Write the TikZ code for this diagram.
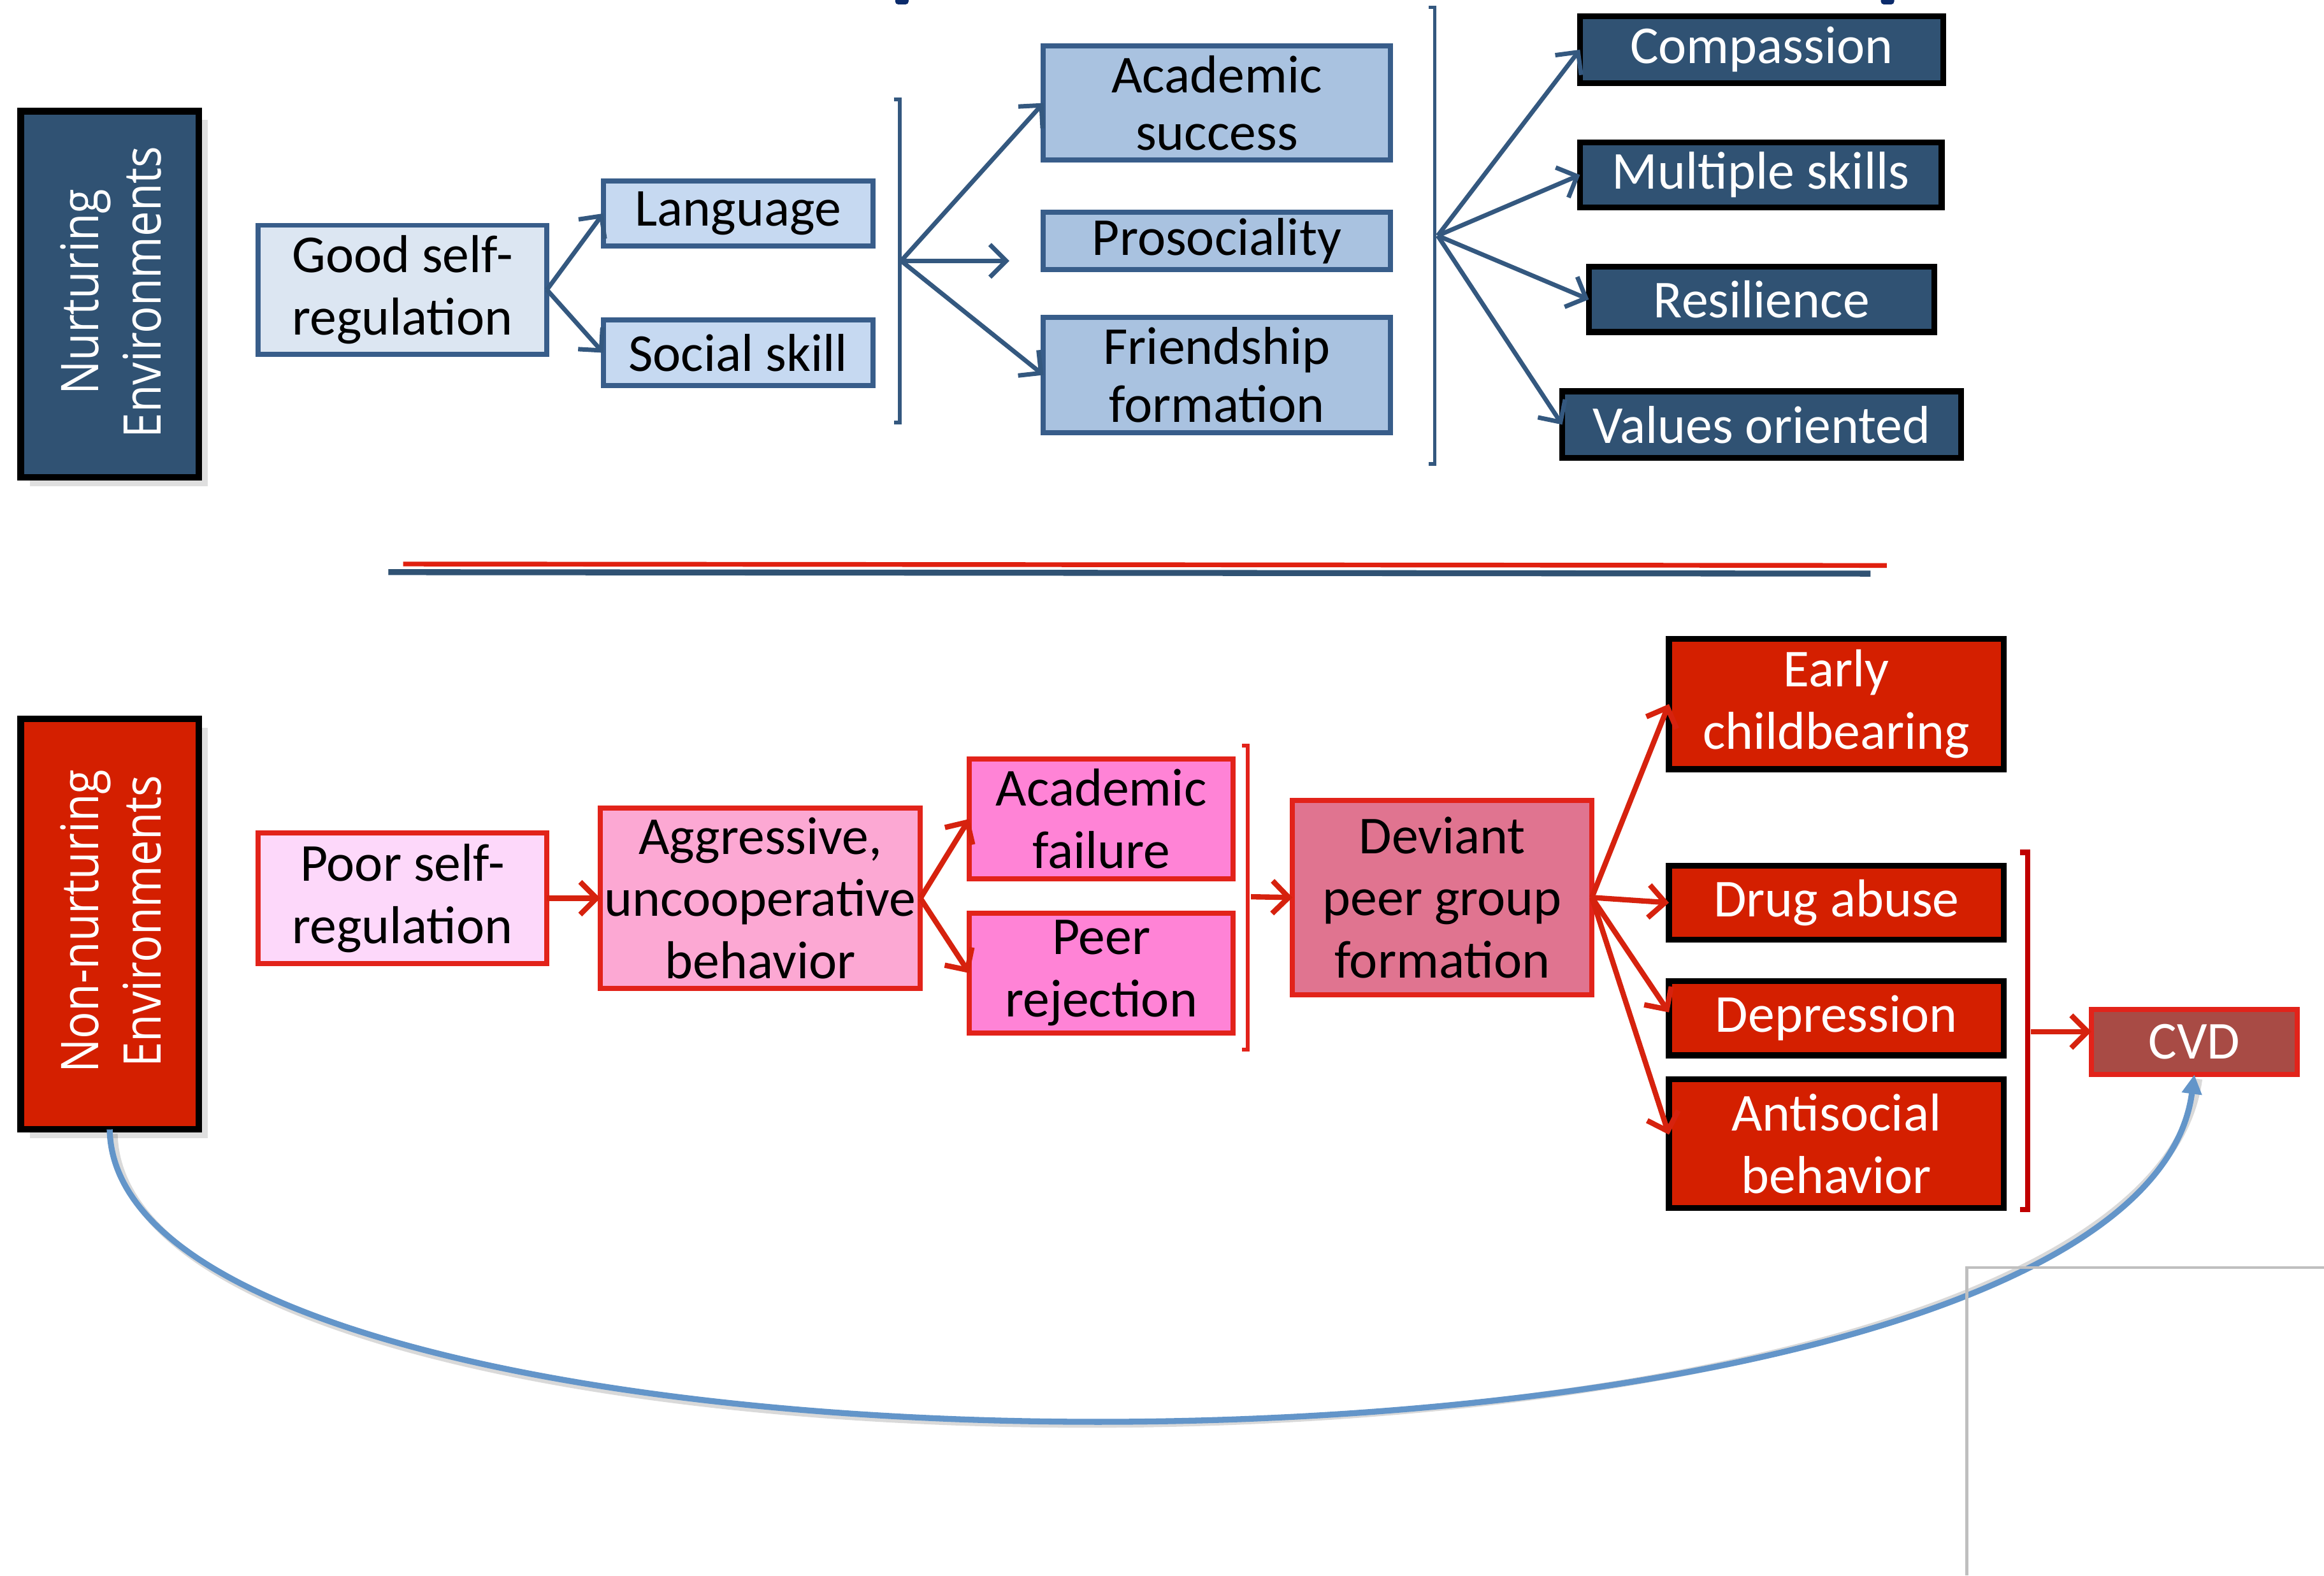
\documentclass[tikz,border=0pt]{standalone}
\usepackage{fontspec}
\setmainfont{Carlito}
\newfontfamily\envfont{Open Sans}
\usetikzlibrary{arrows.meta,shadows}
\definecolor{navy}{HTML}{305273}
\definecolor{edgeblue}{HTML}{385D8A}
\definecolor{paleblue}{HTML}{DCE6F2}
\definecolor{lightblue}{HTML}{C6D9F1}
\definecolor{midblue}{HTML}{A9C2E0}
\definecolor{arrowblue}{HTML}{34587F}
\definecolor{envred}{HTML}{D41F00}
\definecolor{edgered}{HTML}{E2231A}
\definecolor{arrowred}{HTML}{D6220E}
\definecolor{darkbracket}{HTML}{C00000}
\definecolor{palepink}{HTML}{FDD8FA}
\definecolor{pinkA}{HTML}{FCA8D3}
\definecolor{hotpink}{HTML}{FF83D6}
\definecolor{rosebox}{HTML}{E07490}
\definecolor{cvdfill}{HTML}{A84B45}
\definecolor{curveblue}{HTML}{6395C9}
\definecolor{gridgrey}{HTML}{BFBFBF}
\definecolor{topmark}{HTML}{0B2B6B}
\definecolor{sepred}{HTML}{E0200F}
\begin{document}
\begin{tikzpicture}[x=0.5pt,y=-0.5pt,
  bx/.style={rectangle, inner sep=0pt, outer sep=0pt, align=center, font=\fontsize{18}{21}\selectfont},
  tight/.style={font=\fontsize{18}{19.5}\selectfont},
  lightnode/.style={bx, draw=edgeblue, line width=1.7pt},
  darknode/.style={bx, draw=black, fill=navy, text=white, line width=2pt},
  pinknode/.style={bx, draw=edgered, line width=1.7pt},
  rednode/.style={bx, draw=black, fill=envred, text=white, line width=2pt},
  envbox/.style={bx, draw=black, line width=2.2pt,
    drop shadow={shadow xshift=3pt, shadow yshift=-3pt, opacity=0.25}},
  envlabel/.style={inner sep=0pt, text=white, rotate=90},
  barrow/.style={draw=arrowblue, line width=1.5pt, -{Straight Barb[length=5.5pt,width=11pt]}},
  rarrow/.style={draw=arrowred, line width=1.8pt, -{Straight Barb[length=5.5pt,width=11pt]}},
  bluebracket/.style={draw=arrowblue, line width=1.2pt},
  redbracket/.style={draw=edgered, line width=1.3pt}]
\useasboundingbox (0,0) rectangle (1568,1063);

% top partial marks
\fill[topmark, rounded corners=1pt] (604,-4) rectangle (613,3);
\fill[topmark, rounded corners=1pt] (1269,-4) rectangle (1278,3);

% ---------- top half ----------
\node[envbox, fill=navy, minimum width=60pt, minimum height=123.5pt] (nurt) at (74,198.5) {};
\node[envlabel] (nurtT) at (79,197)
  {\scalebox{0.87}[1]{\envfont\fontsize{17.5}{21}\selectfont\begin{tabular}{@{}c@{}}Nurturing\\Environments\end{tabular}}};
\node[lightnode, fill=paleblue, minimum width=97.5pt, minimum height=43.5pt] (good) at (271.5,195.5) {Good self-\\regulation};
\node[lightnode, fill=lightblue, minimum width=91pt, minimum height=22pt] (lang) at (498,144) {Language};
\node[lightnode, fill=lightblue, minimum width=91pt, minimum height=22pt] (social) at (498,238) {Social skill};
\node[lightnode, tight, fill=midblue, minimum width=117pt, minimum height=38.5pt] (acad) at (821,69.5) {Academic\\success};
\node[lightnode, fill=midblue, minimum width=117pt, minimum height=19.5pt] (proso) at (821,162.5) {Prosociality};
\node[lightnode, tight, fill=midblue, minimum width=117pt, minimum height=39pt] (friend) at (821,253) {Friendship\\formation};
\node[darknode, minimum width=122.5pt, minimum height=22.5pt] (comp) at (1188.5,33.5) {Compassion};
\node[darknode, minimum width=122pt, minimum height=22pt] (multi) at (1188,118) {Multiple skills};
\node[darknode, minimum width=116.5pt, minimum height=22pt] (resil) at (1188.5,202) {Resilience};
\node[darknode, minimum width=134.5pt, minimum height=22.5pt] (values) at (1188.5,286.5) {Values oriented};

\draw[barrow] (good.east) -- (lang.west);
\draw[barrow] (good.east) -- (social.west);

\draw[bluebracket] (603,67) -- (607,67) -- (607,285) -- (603,285);
\coordinate (b1) at (608,176);
\coordinate (prosotip) at (681,176);
\draw[barrow] (b1) -- (acad.west);
\draw[barrow] (b1) -- (prosotip);
\draw[barrow] (b1) -- (friend.west);

\draw[bluebracket] (964,5) -- (968,5) -- (968,313) -- (964,313);
\coordinate (b2) at (970,159);
\draw[barrow] (b2) -- (comp.west);
\draw[barrow] (b2) -- (multi.west);
\draw[barrow] (b2) -- (resil.west);
\draw[barrow] (b2) -- (values.west);

% separator
\draw[sepred, line width=1.6pt] (272,380.5) -- (1273,381.5);
\draw[navy, line width=2pt] (262,386) -- (1262,387);

% ---------- bottom half ----------
\node[envbox, fill=envred, minimum width=60pt, minimum height=138.5pt] (nonnurt) at (74,623.5) {};
\node[envlabel] (nonnurtT) at (79,621.5)
  {\scalebox{0.87}[1]{\envfont\fontsize{17.5}{21}\selectfont\begin{tabular}{@{}c@{}}Non-nurturing\\Environments\end{tabular}}};
\node[pinknode, fill=palepink, minimum width=97.5pt, minimum height=44pt] (poor) at (271.5,606) {Poor self-\\regulation};
\node[pinknode, fill=pinkA, minimum width=108pt, minimum height=61pt] (aggr) at (513,606) {Aggressive,\\uncooperative\\behavior};
\node[pinknode, fill=hotpink, minimum width=89pt, minimum height=40.5pt] (acfail) at (743,552.5) {Academic\\failure};
\node[pinknode, fill=hotpink, minimum width=89pt, minimum height=40.5pt] (peer) at (743,656.5) {Peer\\rejection};
\node[pinknode, fill=rosebox, minimum width=101pt, minimum height=65.5pt] (deviant) at (973,605.5) {Deviant\\peer group\\formation};
\node[rednode, minimum width=113pt, minimum height=44pt] (early) at (1239,475) {Early\\childbearing};
\node[rednode, minimum width=113pt, minimum height=25pt] (drug) at (1239,609) {Drug abuse};
\node[rednode, minimum width=113pt, minimum height=25pt] (depr) at (1239,687) {Depression};
\node[rednode, minimum width=113pt, minimum height=43.5pt] (anti) at (1239,771.5) {Antisocial\\behavior};
\node[pinknode, fill=cvdfill, text=white, minimum width=69.5pt, minimum height=22pt] (cvd) at (1480.5,703) {CVD};

\draw[rarrow] (poor.east) -- (aggr.west);
\draw[rarrow] (aggr.east) -- (acfail.west);
\draw[rarrow] (aggr.east) -- (peer.west);

\draw[redbracket] (838,503) -- (842,503) -- (842,708) -- (838,708);
\coordinate (b3) at (844,605);
\draw[rarrow] (b3) -- (deviant.west);

\draw[rarrow] (deviant.east) -- (early.west);
\draw[rarrow] (deviant.east) -- (drug.west);
\draw[rarrow] (deviant.east) -- ([yshift=2pt]depr.west);
\draw[rarrow] (deviant.east) -- ([yshift=3pt]anti.west);

\draw[draw=darkbracket, line width=1.8pt] (1363,575) -- (1368,575) -- (1368,816) -- (1363,816);
\coordinate (b4) at (1370,696);
\draw[rarrow] (b4) -- (b4 -| cvd.west);

% feedback curve (soft shadow then line)
\draw[black, opacity=0.15, line width=2.4pt]
  ([xshift=1.5pt,yshift=-1.5pt]nonnurt.south) .. controls +(5,267) and +(-40,304) .. ([xshift=1.5pt,yshift=-1.5pt]cvd.south);
\draw[curveblue, line width=2pt, -{Triangle[length=6.5pt,width=6.5pt]}]
  (nonnurt.south) .. controls +(5,267) and +(-40,304) .. (cvd.south);

% grey frame lines
\draw[gridgrey, line width=0.9pt] (1568,855) -- (1327,855) -- (1327,1063);
\end{tikzpicture}
\end{document}
